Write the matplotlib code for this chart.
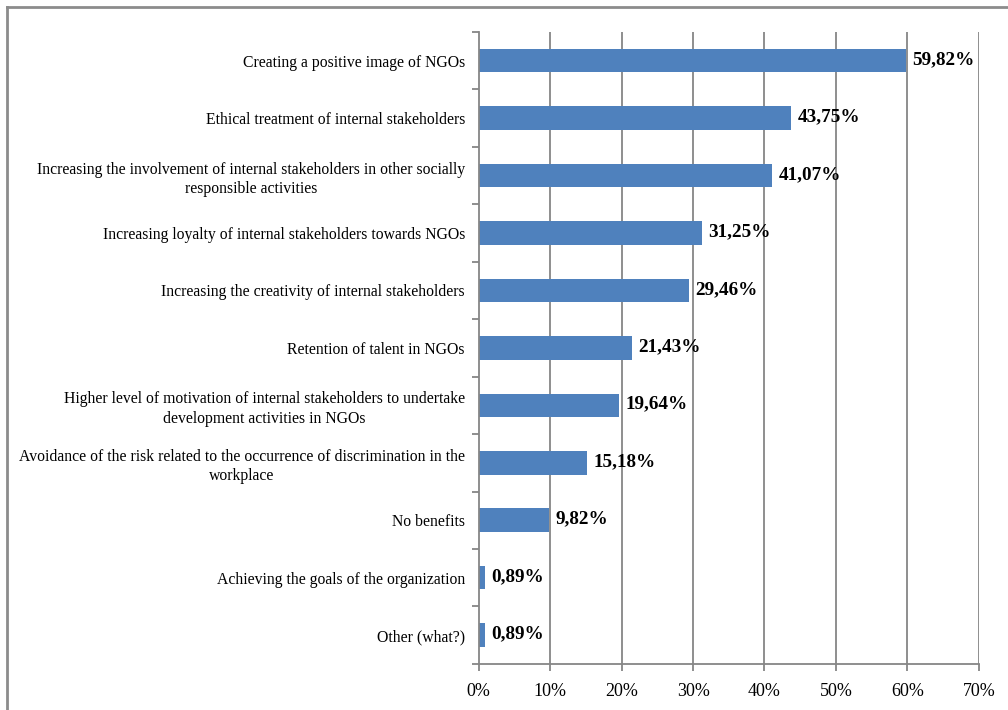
import matplotlib.pyplot as plt
from matplotlib.lines import Line2D

categories = [
    "Creating a positive image of NGOs",
    "Ethical treatment of internal stakeholders",
    "Increasing the involvement of internal stakeholders in other socially\nresponsible activities",
    "Increasing loyalty of internal stakeholders towards NGOs",
    "Increasing the creativity of internal stakeholders",
    "Retention of talent in NGOs",
    "Higher level of motivation of internal stakeholders to undertake\ndevelopment activities in NGOs",
    "Avoidance of the risk related to the occurrence of discrimination in the\nworkplace",
    "No benefits",
    "Achieving the goals of the organization",
    "Other (what?)",
]
values = [59.82, 43.75, 41.07, 31.25, 29.46, 21.43, 19.64, 15.18, 9.82, 0.89, 0.89]
value_labels = ["59,82%", "43,75%", "41,07%", "31,25%", "29,46%", "21,43%",
                "19,64%", "15,18%", "9,82%", "0,89%", "0,89%"]
x_ticks = [0, 10, 20, 30, 40, 50, 60, 70]
x_tick_labels = ["0%", "10%", "20%", "30%", "40%", "50%", "60%", "70%"]

plt.rcParams['font.family'] = ['Liberation Serif', 'DejaVu Serif']

fig = plt.figure(figsize=(10.08, 7.1), dpi=100)
ax = fig.add_axes([0.475, 0.065, 0.496, 0.890])

grey = "#868686"
n = len(categories)
pos = list(range(n))[::-1]

# vertical gridlines
for t in x_ticks[1:]:
    ax.axvline(t, color=grey, linewidth=1.3, zorder=0)

ax.barh(pos, values, height=0.41, color="#4F81BD", zorder=2)

for p, v, lab in zip(pos, values, value_labels):
    ax.text(v + 0.9, p + 0.02, lab, va="center", ha="left", fontsize=13.8,
            fontweight="bold", zorder=3)

ax.set_xlim(0, 70)
ax.set_ylim(-0.5, n - 0.5)
ax.set_xticks(x_ticks)
ax.set_xticklabels(x_tick_labels, fontsize=13)
ax.set_yticks(pos)
ax.set_yticklabels(categories, fontsize=11.3, multialignment="center",
                   linespacing=1.3)
ax.tick_params(axis="y", length=0, pad=10)
ax.tick_params(axis="x", length=5, color=grey, width=1.3, pad=9)

# minor ticks on y at category boundaries
ax.set_yticks([i - 0.5 for i in range(n + 1)], minor=True)
ax.tick_params(axis="y", which="minor", length=5, color=grey, width=1.3)

for s in ["top", "right"]:
    ax.spines[s].set_visible(False)
for s in ["left", "bottom"]:
    ax.spines[s].set_color(grey)
    ax.spines[s].set_linewidth(1.3)

# outer frame (top and left edges)
fig.add_artist(Line2D([0.007, 1.0], [0.990, 0.990], color="#8c8c8c", linewidth=2,
                      transform=fig.transFigure))
fig.add_artist(Line2D([0.007, 0.007], [0.0, 0.990], color="#8c8c8c", linewidth=2,
                      transform=fig.transFigure))

fig.savefig("out.png", dpi=100)
